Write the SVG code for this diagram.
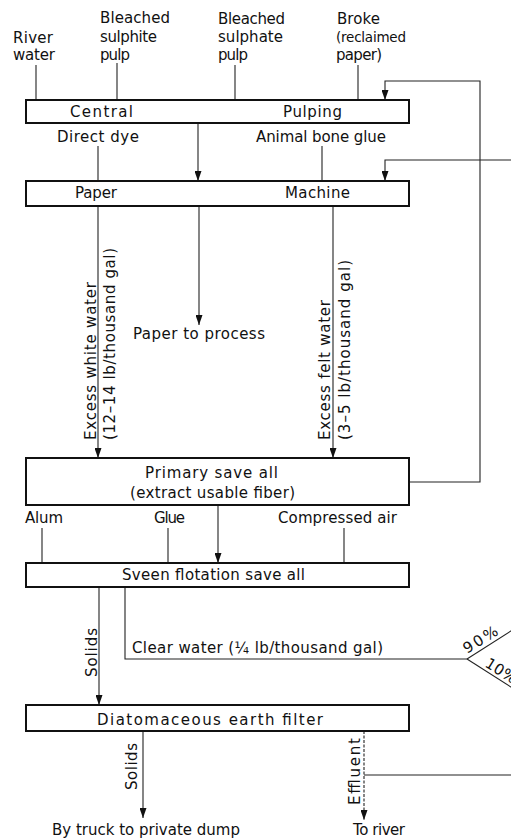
<svg xmlns="http://www.w3.org/2000/svg" width="511" height="838" viewBox="0 0 511 838">
<style>
.box{fill:#fff;stroke:#111;stroke-width:2}
.ln{fill:none;stroke:#222;stroke-width:1.1}
.t{font-family:"DejaVu Sans","Liberation Sans",sans-serif;font-size:15px;fill:#111}
.s{font-size:13.5px}
</style>
<defs>
<marker id="ah" markerUnits="userSpaceOnUse" markerWidth="10" markerHeight="7" refX="10" refY="3.5" orient="auto">
<path d="M0,0 L10,3.5 L0,7 z" fill="#111"/>
</marker>
</defs>
<rect width="511" height="838" fill="#fff"/>

<g id="connectors">
<line class="ln" x1="36" y1="65" x2="36" y2="100"/>
<line class="ln" x1="117" y1="63" x2="117" y2="100"/>
<line class="ln" x1="235" y1="65" x2="235" y2="100"/>
<line class="ln" x1="358" y1="65" x2="358" y2="100"/>
<polyline class="ln" points="409,482 480,482 480,81 385,81 385,100" marker-end="url(#ah)"/>
<polyline class="ln" points="520,160 385,160 385,181" marker-end="url(#ah)"/>
<line class="ln" x1="198" y1="123" x2="198" y2="181" marker-end="url(#ah)"/>
<line class="ln" x1="98" y1="146" x2="98" y2="181"/>
<line class="ln" x1="322" y1="146" x2="322" y2="181"/>
<line class="ln" x1="98" y1="206" x2="98" y2="458" marker-end="url(#ah)"/>
<line class="ln" x1="199" y1="206" x2="199" y2="325" marker-end="url(#ah)"/>
<line class="ln" x1="333" y1="206" x2="333" y2="458" marker-end="url(#ah)"/>
<line class="ln" x1="218" y1="505" x2="218" y2="563" marker-end="url(#ah)"/>
<line class="ln" x1="42" y1="528" x2="42" y2="563"/>
<line class="ln" x1="168" y1="528" x2="168" y2="563"/>
<line class="ln" x1="344" y1="528" x2="344" y2="563"/>
<line class="ln" x1="99" y1="587" x2="99" y2="705" marker-end="url(#ah)"/>
<polyline class="ln" points="125,587 125,659 467,659"/>
<line class="ln" x1="467" y1="659" x2="525" y2="622"/>
<line class="ln" x1="467" y1="659" x2="525" y2="696"/>
<line class="ln" x1="143" y1="731" x2="143" y2="818" marker-end="url(#ah)"/>
<line class="ln" x1="364" y1="731" x2="364" y2="820" stroke-dasharray="3 1.5" marker-end="url(#ah)"/>
<line class="ln" x1="364" y1="775" x2="520" y2="775"/>
</g>

<g id="labels-inputs">
<text class="t" x="13" y="43" textLength="40">River</text>
<text class="t" x="13" y="60" textLength="42">water</text>
<text class="t" x="100" y="23" textLength="70">Bleached</text>
<text class="t" x="100" y="42" textLength="57">sulphite</text>
<text class="t" x="100" y="60" textLength="30">pulp</text>
<text class="t" x="218" y="24" textLength="67">Bleached</text>
<text class="t" x="218" y="42" textLength="65">sulphate</text>
<text class="t" x="218" y="60" textLength="30">pulp</text>
<text class="t" x="337" y="24" textLength="43">Broke</text>
<text class="t s" x="336" y="42" textLength="70">(reclaimed</text>
<text class="t" x="336" y="60" textLength="46">paper)</text>
</g>

<g id="central-pulping">
<rect class="box" x="26" y="100" width="383" height="23"/>
<text class="t" x="70" y="117" textLength="63">Central</text>
<text class="t" x="283" y="117" textLength="59">Pulping</text>
</g>

<g id="additives-1">
<text class="t" x="57" y="142" textLength="82">Direct dye</text>
<text class="t" x="256" y="142" textLength="130">Animal bone glue</text>
</g>

<g id="paper-machine">
<rect class="box" x="26" y="181" width="383" height="25"/>
<text class="t" x="75" y="198" textLength="42">Paper</text>
<text class="t" x="285" y="198" textLength="65">Machine</text>
</g>

<g id="white-water-label">
<text class="t" transform="translate(96,440) rotate(-90)" textLength="158">Excess white water</text>
<text class="t" transform="translate(115,440) rotate(-90)" textLength="192">(12–14 lb/thousand gal)</text>
</g>

<g id="paper-to-process">
<text class="t" x="133" y="339" textLength="132">Paper to process</text>
</g>

<g id="felt-water-label">
<text class="t" transform="translate(330,440) rotate(-90)" textLength="140">Excess felt water</text>
<text class="t" transform="translate(350,440) rotate(-90)" textLength="180">(3–5 lb/thousand gal)</text>
</g>

<g id="primary-save-all">
<rect class="box" x="26" y="458" width="383" height="47"/>
<text class="t" x="145" y="478" textLength="133">Primary save all</text>
<text class="t" x="130" y="498" textLength="165">(extract usable fiber)</text>
</g>

<g id="additives-2">
<text class="t" x="25" y="523" textLength="38">Alum</text>
<text class="t" x="154" y="523" textLength="31">Glue</text>
<text class="t" x="278" y="523" textLength="119">Compressed air</text>
</g>

<g id="sveen">
<rect class="box" x="26" y="563" width="383" height="24"/>
<text class="t" x="122" y="580" textLength="183">Sveen flotation save all</text>
</g>

<g id="sveen-outputs">
<text class="t" transform="translate(97,677) rotate(-90)" textLength="49">Solids</text>
<text class="t" x="132" y="653" textLength="251">Clear water (¼ lb/thousand gal)</text>
<text class="t" transform="translate(467,654) rotate(-32)" textLength="38">90%</text>
<text class="t" transform="translate(484,666) rotate(32)" textLength="34">10%</text>
</g>

<g id="diatomaceous-filter">
<rect class="box" x="26" y="705" width="383" height="26"/>
<text class="t" x="97" y="725" textLength="226">Diatomaceous  earth  filter</text>
</g>

<g id="filter-outputs">
<text class="t" transform="translate(137,790) rotate(-90)" textLength="47">Solids</text>
<text class="t" transform="translate(360,805) rotate(-90)" textLength="67">Effluent</text>
<text class="t" x="52" y="835" textLength="188">By truck to private dump</text>
<text class="t" x="353" y="835" textLength="52">To river</text>
</g>
</svg>
